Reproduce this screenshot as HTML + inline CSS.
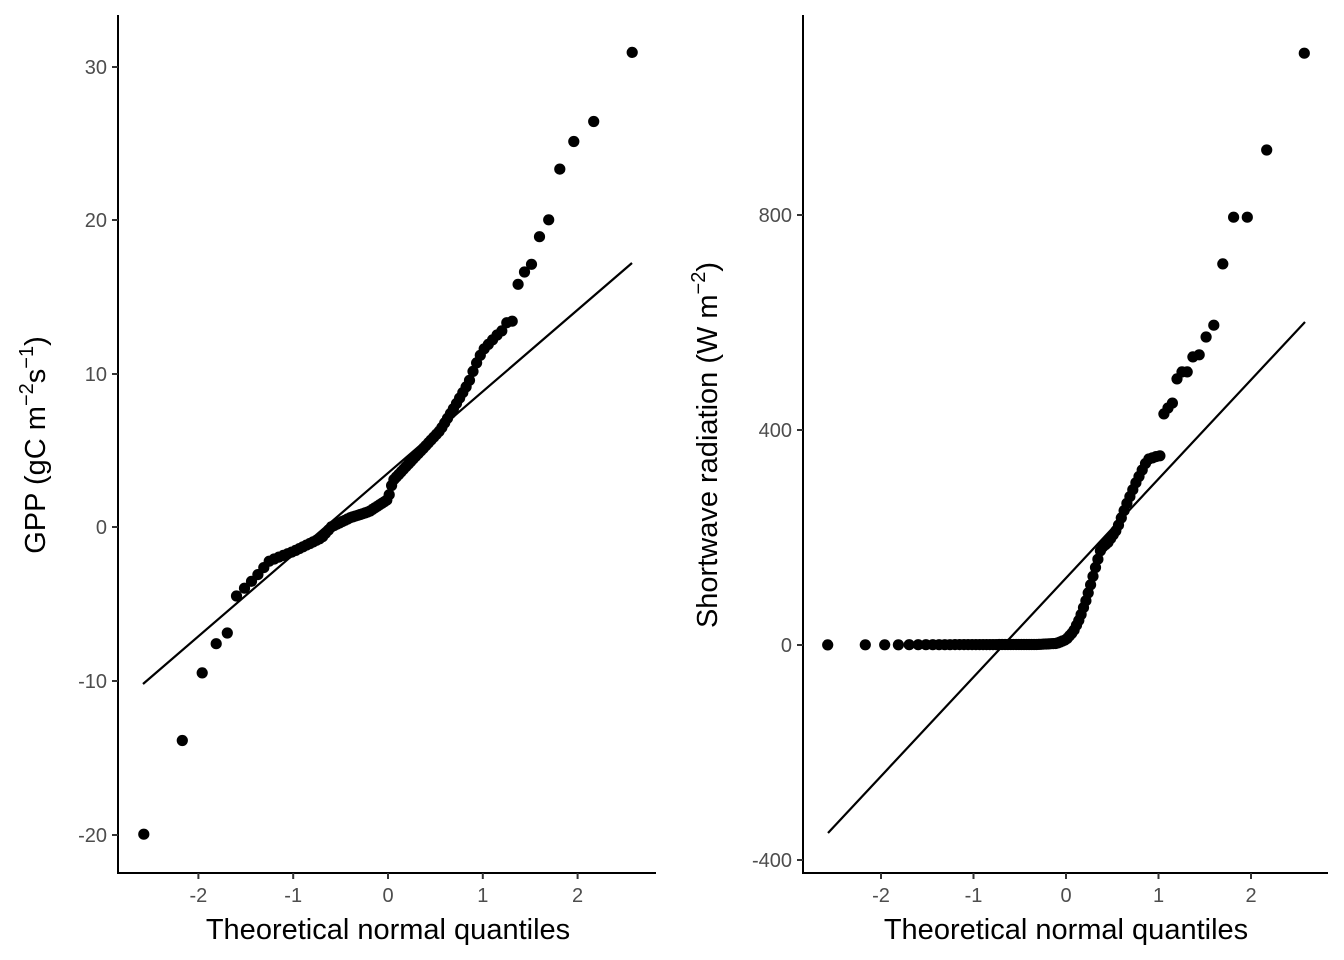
<!DOCTYPE html>
<html><head><meta charset="utf-8">
<style>
html,body{margin:0;padding:0;background:#fff;}
svg{display:block;font-family:"Liberation Sans",sans-serif;}
.tk{font-size:20px;fill:#4d4d4d;}
.tt{font-size:29px;fill:#000;}
</style></head><body>
<svg id="s" width="1344" height="960" viewBox="0 0 1344 960">
<line x1="118" y1="15" x2="118" y2="874" stroke="#000" stroke-width="2"/>
<line x1="117" y1="873" x2="656" y2="873" stroke="#000" stroke-width="2"/>
<line x1="803" y1="15" x2="803" y2="874" stroke="#000" stroke-width="2"/>
<line x1="802" y1="873" x2="1328" y2="873" stroke="#000" stroke-width="2"/>
<line x1="143" y1="684" x2="632" y2="263" stroke="#000" stroke-width="2.2"/>
<line x1="828" y1="833" x2="1305" y2="322" stroke="#000" stroke-width="2.2"/>
<g id="g"></g>
<text class="tt" x="388" y="939" text-anchor="middle">Theoretical normal quantiles</text>
<text class="tt" x="1066" y="939" text-anchor="middle">Theoretical normal quantiles</text>
<text class="tt" transform="translate(45,445) rotate(-90)" text-anchor="middle">GPP (gC m<tspan dy="-12" font-size="20">−2</tspan><tspan dy="12">s</tspan><tspan dy="-12" font-size="20">−1</tspan><tspan dy="12">)</tspan></text>
<text class="tt" transform="translate(717,445) rotate(-90)" text-anchor="middle">Shortwave radiation (W m<tspan dy="-12" font-size="20">−2</tspan><tspan dy="12">)</tspan></text>
</svg>
<script>
var g=document.getElementById('g'),h='';
function qn(p){var a=[-39.6968302866538,220.946098424521,-275.928510446969,138.357751867269,-30.6647980661472,2.50662827745924],b=[-54.4760987982241,161.585836858041,-155.698979859887,66.8013118877197,-13.2806815528857],c=[-0.00778489400243029,-0.322396458041136,-2.40075827716184,-2.54973253934373,4.37466414146497,2.93816398269878],d=[0.00778469570904146,0.32246712907004,2.445134137143,3.75440866190742];var q,r;if(p<0.02425){q=Math.sqrt(-2*Math.log(p));return(((((c[0]*q+c[1])*q+c[2])*q+c[3])*q+c[4])*q+c[5])/((((d[0]*q+d[1])*q+d[2])*q+d[3])*q+1);}if(p>1-0.02425){return -qn(1-p);}q=p-0.5;r=q*q;return(((((a[0]*r+a[1])*r+a[2])*r+a[3])*r+a[4])*r+a[5])*q/(((((b[0]*r+b[1])*r+b[2])*r+b[3])*r+b[4])*r+1);}
function interp(cp,x){if(x<=cp[0][0])return cp[0][1];for(var i=1;i<cp.length;i++){if(x<=cp[i][0]){var t=(x-cp[i-1][0])/(cp[i][0]-cp[i-1][0]);return cp[i-1][1]+t*(cp[i][1]-cp[i-1][1]);}}return cp[cp.length-1][1];}
function tick(x,y,lab,axis){if(axis=='y'){h+='<line x1="'+(x-6)+'" y1="'+y+'" x2="'+x+'" y2="'+y+'" stroke="#333" stroke-width="2"/><text class="tk" x="'+(x-11)+'" y="'+(y+7)+'" text-anchor="end">'+lab+'</text>';}else{h+='<line x1="'+x+'" y1="'+y+'" x2="'+x+'" y2="'+(y+6)+'" stroke="#333" stroke-width="2"/><text class="tk" x="'+x+'" y="'+(y+29)+'" text-anchor="middle">'+lab+'</text>';}}
var L={cp:[[-2.6,-10],[-1.7,-6.9],[-1.6,-4.5],[-1.5,-3.9],[-1.4,-3.3],[-1.25,-2.2],[-1.0,-1.6],[-0.7,-0.7],[-0.6,0],[-0.4,0.6],[-0.2,1.0],[0,1.8],[0.05,3.0],[0.2,4],[0.4,5.3],[0.55,6.3],[0.7,7.8],[0.85,9.4],[0.92,10.5],[1.0,11.5],[1.15,12.5],[1.3,13.3],[1.4,13.4]],top:[30.9,26.4,25.1,23.3,20.0,18.9,17.1,16.6,15.8,13.4,13.3],bot:[-20,-13.9,-9.5,-7.6,-6.9],x0:388,sx:94.8,y0:527,sy:15.36};
var R={cp:[[-3,0],[-0.3,1],[-0.1,3],[0,10],[0.08,25],[0.15,50],[0.22,85],[0.28,120],[0.32,145],[0.38,180],[0.45,190],[0.55,215],[0.65,260],[0.75,300],[0.88,345],[1.0,352]],top:[1101,921,796,796,709,595,573,540,536,508,508,495,450,441,430],bot:[],x0:1066,sx:92.5,y0:645,sy:0.5375};
[L,R].forEach(function(P){for(var i=1;i<=100;i++){var q=qn((i-0.5)/100),v;var ti=100-i;if(ti<P.top.length)v=P.top[ti];else if(i-1<P.bot.length)v=P.bot[i-1];else v=interp(P.cp,q);h+='<circle cx="'+(P.x0+q*P.sx).toFixed(1)+'" cy="'+(P.y0-v*P.sy).toFixed(1)+'" r="5.6"/>';}});
[[30,67],[20,220],[10,374],[0,527],[-10,681],[-20,835]].forEach(function(t){tick(118,t[1],t[0],'y');});
[[800,215],[400,430],[0,645],[-400,860]].forEach(function(t){tick(803,t[1],t[0],'y');});
[-2,-1,0,1,2].forEach(function(k){tick(388+k*94.8,873,k,'x');tick(1066+k*92.5,873,k,'x');});
g.innerHTML=h;
</script>
</body></html>
